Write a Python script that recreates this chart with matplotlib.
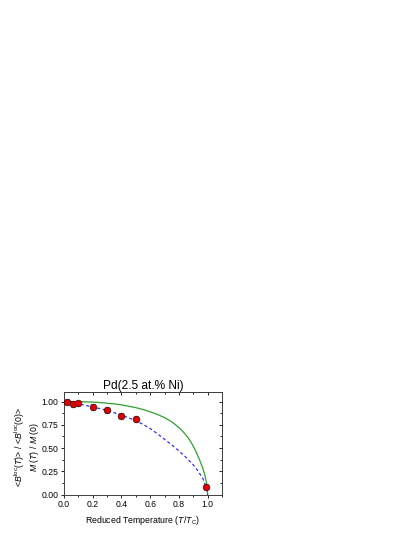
import matplotlib
matplotlib.use("Agg")
import matplotlib.pyplot as plt
from matplotlib.ticker import MultipleLocator, FormatStrFormatter

plt.rcParams['font.family'] = ['Liberation Sans', 'DejaVu Sans']
plt.rcParams['mathtext.fontset'] = 'custom'
plt.rcParams['mathtext.rm'] = 'Liberation Sans'
plt.rcParams['mathtext.it'] = 'Liberation Sans:italic'
plt.rcParams['mathtext.bf'] = 'Liberation Sans:bold'

# data points (muSR)
t_data = [0.02, 0.06, 0.10, 0.20, 0.30, 0.40, 0.50, 0.99]
b_data = [1.00, 0.97, 0.98, 0.94, 0.91, 0.85, 0.81, 0.085]
b_err = [0.025, 0.03, 0.03, 0.03, 0.03, 0.03, 0.03, 0.025]

# green solid curve
t_green = [0.0, 0.1, 0.2, 0.25, 0.3, 0.35, 0.4, 0.45, 0.5, 0.55, 0.6, 0.65, 0.7, 0.75,
           0.8, 0.83, 0.86, 0.88, 0.9, 0.92, 0.945, 0.965, 0.98, 0.99, 0.997, 1.0]
m_green = [1.0, 0.999, 0.995, 0.99, 0.982, 0.975, 0.965, 0.95, 0.935, 0.915, 0.89, 0.862, 0.828, 0.783,
           0.722, 0.675, 0.62, 0.575, 0.52, 0.46, 0.37, 0.29, 0.215, 0.145, 0.075, 0.0]

# blue dashed curve
t_blue = [0.0, 0.05, 0.1, 0.15, 0.2, 0.25, 0.3, 0.35, 0.4, 0.45, 0.5, 0.55, 0.6, 0.65, 0.7,
          0.75, 0.8, 0.85, 0.9, 0.933, 0.968, 0.986, 1.0]
m_blue = [1.0, 0.99, 0.975, 0.96, 0.94, 0.925, 0.905, 0.88, 0.855, 0.825, 0.795, 0.755, 0.71, 0.655, 0.595,
          0.535, 0.47, 0.40, 0.32, 0.255, 0.17, 0.09, 0.0]

# red short line
t_red = [0.0, 0.1]
m_red = [1.0, 0.995]

fig = plt.figure(figsize=(4.15, 5.37), dpi=100)
ax = fig.add_axes([0.1542, 0.0788, 0.3807, 0.1907])

ax.plot(t_green, m_green, color='#30a030', lw=0.9, zorder=2)
ax.plot(t_blue, m_blue, color='#3030ff', lw=0.9, ls=(0, (2.5, 2.0)), zorder=2)
ax.plot(t_red, m_red, color='#ff0000', lw=0.9, zorder=3)
ax.errorbar(t_data, b_data, yerr=b_err, fmt='o', ms=4.8, mfc='#e00000', mec='#301010',
            mew=0.5, ecolor='#606060', elinewidth=0.7, capsize=1.2, capthick=0.6, zorder=4)

ax.set_xlim(0, 1.1)
ax.set_ylim(0, 1.1)
ax.xaxis.set_major_locator(MultipleLocator(0.2))
ax.xaxis.set_minor_locator(MultipleLocator(0.1))
ax.yaxis.set_major_locator(MultipleLocator(0.25))
ax.yaxis.set_minor_locator(MultipleLocator(0.125))
ax.xaxis.set_major_formatter(FormatStrFormatter('%.1f'))
ax.yaxis.set_major_formatter(FormatStrFormatter('%.2f'))

ax.tick_params(which='both', direction='out', top=False, right=False, labelsize=6.2, width=0.6, pad=1.5)
ax.tick_params(which='major', length=2.5)
ax.tick_params(which='minor', length=1.3)
ax2 = ax.secondary_xaxis('top')
ax2.xaxis.set_major_locator(MultipleLocator(0.2))
ax2.xaxis.set_minor_locator(MultipleLocator(0.1))
ax2.tick_params(which='both', direction='in', labeltop=False, width=0.6)
ax2.tick_params(which='major', length=2.5)
ax2.tick_params(which='minor', length=1.3)
ax3 = ax.secondary_yaxis('right')
ax3.yaxis.set_major_locator(MultipleLocator(0.25))
ax3.yaxis.set_minor_locator(MultipleLocator(0.125))
ax3.tick_params(which='both', direction='in', labelright=False, width=0.6)
ax3.tick_params(which='major', length=2.5)
ax3.tick_params(which='minor', length=1.3)
for s in ax.spines.values():
    s.set_linewidth(0.7)
    s.set_color('#404040')
ax2.spines['top'].set_linewidth(0.7)
ax3.spines['right'].set_linewidth(0.7)

ax.set_title('Pd(2.5 at.% Ni)', fontsize=8.6, pad=2)
ax.set_xlabel(r'Reduced Temperature ($T$/$T_{\rm C}$)', fontsize=6.3, labelpad=3.5)

fig.text(20/415, 1-447/537, r'<$B^{\rm loc}$($T$)> / <$B^{\rm loc}$(0)>', rotation=90,
         ha='center', va='center', fontsize=6.3)
fig.text(34/415, 1-447/537, r'$M$ ($T$) / $M$ (0)', rotation=90,
         ha='center', va='center', fontsize=6.3)

fig.savefig('out.png', dpi=100)
